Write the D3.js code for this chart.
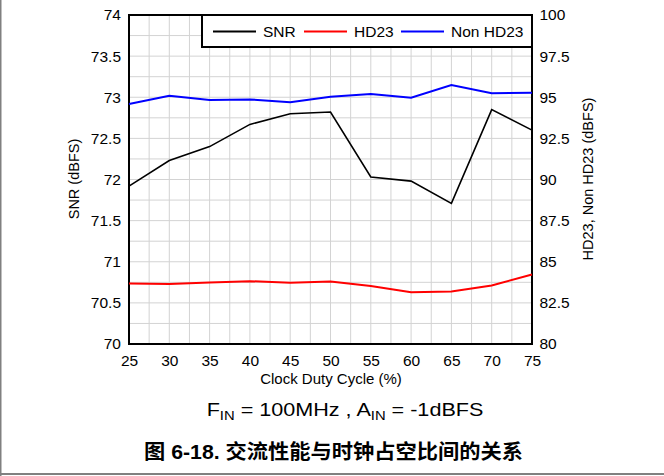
<!DOCTYPE html>
<html><head><meta charset="utf-8">
<script src="https://cdn.jsdelivr.net/npm/d3@7"></script>
<style>
html,body{margin:0;padding:0;background:#fff;}
svg{display:block;font-family:Arial,"Liberation Sans",sans-serif;}
</style></head>
<body>
<svg id="c" width="664" height="476"></svg>
<script>
const dutyCycle = [25, 30, 35, 40, 45, 50, 55, 60, 65, 70, 75];
const snr      = [71.92, 72.23, 72.40, 72.67, 72.80, 72.82, 72.03, 71.98, 71.71, 72.85, 72.60];
const hd23     = [83.68, 83.64, 83.74, 83.82, 83.72, 83.80, 83.52, 83.15, 83.19, 83.56, 84.23];
const nonHd23  = [94.59, 95.09, 94.83, 94.87, 94.69, 95.03, 95.19, 94.97, 95.74, 95.24, 95.28];
const leftTicks  = [70, 70.5, 71, 71.5, 72, 72.5, 73, 73.5, 74];
const rightTicks = [80, 82.5, 85, 87.5, 90, 92.5, 95, 97.5, 100];
const xTicks = [25, 30, 35, 40, 45, 50, 55, 60, 65, 70, 75];
const seriesNames = ["SNR", "HD23", "Non HD23"];
const seriesColors = ["#000000", "#ff0000", "#0000ff"];

const svg = d3.select("#c");
const L = 129, R = 532, T = 15, B = 344;
const x = d3.scaleLinear().domain([25, 75]).range([L, R]);
const yL = d3.scaleLinear().domain([70, 74]).range([B, T]);
const yR = d3.scaleLinear().domain([80, 100]).range([B, T]);

// outer frame (left + bottom)
svg.append("line").attr("x1",0.75).attr("x2",0.75).attr("y1",0).attr("y2",476).attr("stroke","#808080").attr("stroke-width",1.5);
svg.append("line").attr("x1",0).attr("x2",664).attr("y1",474).attr("y2",474).attr("stroke","#808080").attr("stroke-width",2);

// grid
const g = svg.append("g");
d3.range(25, 75.01, 2.5).forEach(v => {
  g.append("line").attr("x1", x(v)).attr("x2", x(v)).attr("y1", T).attr("y2", B)
    .attr("stroke", "#d3d3d3").attr("stroke-width", 1);
});
d3.range(70, 74.01, 0.25).forEach(v => {
  g.append("line").attr("x1", L).attr("x2", R).attr("y1", yL(v)).attr("y2", yL(v))
    .attr("stroke", "#d3d3d3").attr("stroke-width", 1);
});

// axes
const axB = svg.append("g").attr("transform", `translate(0,${B})`)
  .call(d3.axisBottom(x).tickValues(xTicks).tickSize(0).tickPadding(10.5).tickFormat(d3.format("d")));
const axL = svg.append("g").attr("transform", `translate(${L},0)`)
  .call(d3.axisLeft(yL).tickValues(leftTicks).tickSize(0).tickPadding(8).tickFormat(d => d3.format("~g")(d)));
const axR = svg.append("g").attr("transform", `translate(${R},0)`)
  .call(d3.axisRight(yR).tickValues(rightTicks).tickSize(0).tickPadding(7.5).tickFormat(d => d3.format("~g")(d)));
[axB, axL, axR].forEach(a => {
  a.select(".domain").remove();
  a.selectAll("text").attr("font-size", 15.5).attr("fill", "#000").attr("font-family", "Arial, 'Liberation Sans', sans-serif");
});
// plot frame
svg.append("rect").attr("x", L).attr("y", T).attr("width", R - L).attr("height", B - T)
  .attr("fill", "none").attr("stroke", "#000").attr("stroke-width", 2);

// lines
const lineL = d3.line().x((d, i) => x(dutyCycle[i])).y(d => yL(d));
const lineR = d3.line().x((d, i) => x(dutyCycle[i])).y(d => yR(d));
svg.append("path").datum(hd23).attr("d", lineR).attr("fill", "none").attr("stroke", seriesColors[1]).attr("stroke-width", 2);
svg.append("path").datum(nonHd23).attr("d", lineR).attr("fill", "none").attr("stroke", seriesColors[2]).attr("stroke-width", 2);
svg.append("path").datum(snr).attr("d", lineL).attr("fill", "none").attr("stroke", seriesColors[0]).attr("stroke-width", 1.6);

// legend
svg.append("rect").attr("x", 202).attr("y", 15).attr("width", 330).attr("height", 32)
  .attr("fill", "#fff").attr("stroke", "#000").attr("stroke-width", 2);
const legX = [213, 304, 401];
seriesNames.forEach((n, i) => {
  svg.append("line").attr("x1", legX[i]).attr("x2", legX[i] + 43).attr("y1", 31.5).attr("y2", 31.5)
    .attr("stroke", seriesColors[i]).attr("stroke-width", 2);
  svg.append("text").attr("x", legX[i] + 50).attr("y", 37).attr("font-size", 15.5).attr("fill", "#000").text(n);
});

// axis titles
svg.append("text").attr("transform", "translate(79,179) rotate(-90)").attr("text-anchor", "middle")
  .attr("font-size", 14.5).text("SNR (dBFS)");
svg.append("text").attr("transform", "translate(593,179) rotate(-90)").attr("text-anchor", "middle")
  .attr("font-size", 14.5).text("HD23, Non HD23 (dBFS)");
svg.append("text").attr("x", 331).attr("y", 384).attr("text-anchor", "middle")
  .attr("font-size", 15).text("Clock Duty Cycle (%)");

// caption (stretched horizontally to the reference width)
function fitWidth(gSel, textSel, target) {
  const w = textSel.node().getComputedTextLength();
  const s = w > 0 ? target / w : 1;
  gSel.attr("transform", gSel.attr("transform") + ` scale(${s},1)`);
}
const capG = svg.append("g").attr("transform", "translate(345,416)");
const cap = capG.append("text").attr("x", 0).attr("y", 0).attr("text-anchor", "middle").attr("font-size", 17.5);
cap.append("tspan").text("F");
cap.append("tspan").attr("font-size", 12).attr("dy", 4).text("IN");
cap.append("tspan").attr("dy", -4).text(" = 100MHz , A");
cap.append("tspan").attr("font-size", 12).attr("dy", 4).text("IN");
cap.append("tspan").attr("dy", -4).text(" = -1dBFS");
fitWidth(capG, cap, 277);

const titG = svg.append("g").attr("transform", "translate(333.5,458.5)");
const tit = titG.append("text").attr("x", 0).attr("y", 0).attr("text-anchor", "middle")
  .attr("font-size", 20).attr("font-weight", "bold")
  .attr("font-family", "Arial, 'Noto Sans CJK SC', sans-serif")
  .text("图 6-18. 交流性能与时钟占空比间的关系");
fitWidth(titG, tit, 379);
</script>
</body></html>
